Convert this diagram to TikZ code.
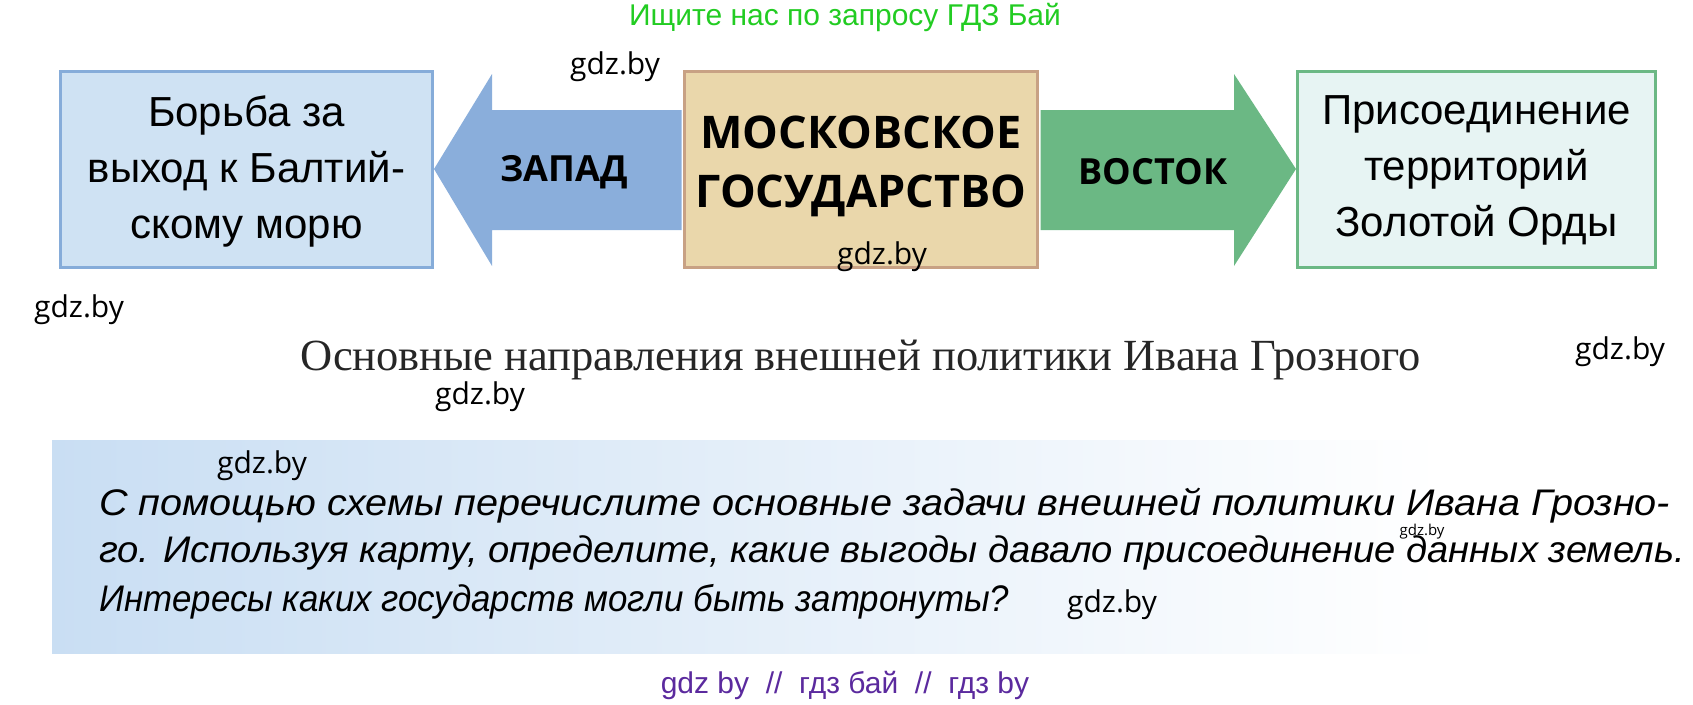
\documentclass[tikz,border=0pt]{standalone}
\usepackage{fontspec}
\setmainfont{Liberation Sans}
\newfontfamily\osans{Open Sans}
\newfontfamily\cserif{Liberation Serif}
\usetikzlibrary{calc}
\definecolor{lbfill}{HTML}{CFE2F3}
\definecolor{lbdraw}{HTML}{86ACD9}
\definecolor{barrow}{HTML}{8AAEDB}
\definecolor{cfill}{HTML}{EAD7AB}
\definecolor{cdraw}{HTML}{C8A184}
\definecolor{garrow}{HTML}{6BB884}
\definecolor{rfill}{HTML}{E7F4F3}
\definecolor{grtext}{HTML}{22CC22}
\definecolor{purp}{HTML}{5B2A9E}
\definecolor{qfill}{HTML}{C9DEF3}
\tikzset{
  box/.style={line width=3pt, inner sep=0pt, minimum height=196pt, align=center},
  boxtext/.style={font=\fontsize{42}{56}\selectfont, align=center},
  label/.style={font=\osans\bfseries\fontsize{36}{40}\selectfont},
  wm/.style={font=\osans\fontsize{30}{34}\selectfont},
  qline/.style={font=\itshape\fontsize{37}{40}\selectfont, anchor=west, inner sep=0pt}
}
\begin{document}
\begin{tikzpicture}[x=1pt,y=-1pt]
\useasboundingbox (0,0) rectangle (1693,704);
% boxes
\node[box, draw=lbdraw, fill=lbfill, minimum width=372pt] (left) at (246.5,169) {};
\node[box, draw=cdraw, fill=cfill, minimum width=353pt] (center) at (861,169) {};
\node[box, draw=garrow, fill=rfill, minimum width=358pt] (right) at (1476.5,169) {};
% arrows
\fill[barrow] (left.east) -- ($(left.east)+(58,-95)$) -- ($(left.east)+(58,-59)$)
  -- ($(center.west)+(-1.5,-59)$) -- ($(center.west)+(-1.5,61)$) -- ($(left.east)+(58,61)$)
  -- ($(left.east)+(58,97)$) -- cycle;
\fill[garrow] ($(center.east)+(1.5,-59)$) -- ($(right.west)+(-62,-59)$) -- ($(right.west)+(-62,-95)$)
  -- (right.west) -- ($(right.west)+(-62,97)$) -- ($(right.west)+(-62,61)$)
  -- ($(center.east)+(1.5,61)$) -- cycle;
% texts
\node[boxtext] (lt) at (246.5,171) {Борьба за\\выход к Балтий-\\скому морю};
\node[boxtext] (rt) at (1476.5,170) {Присоединение\\территорий\\Золотой Орды};
\node[font=\osans\bfseries\fontsize{45}{59}\selectfont, align=center] (ct) at (861,166) {МОСКОВСКОЕ\\ГОСУДАРСТВО};
\node[label] (west) at (564,172) {ЗАПАД};
\node[label] (east) at (1153,172) {ВОСТОК};
\node[text=grtext, font=\fontsize{30}{34}\selectfont] (top) at (845,17) {Ищите нас по запросу ГДЗ Бай};
\node[font=\cserif\fontsize{44.5}{50}\selectfont, text=black!85] (cap) at (861,360) {Основные направления внешней политики Ивана Грозного};
% question box
\shade[left color=qfill, right color=white] (52,440) rectangle (1440,653);
\node[qline] (q1) at (99,506) {\resizebox{1571pt}{\height}{С помощью схемы перечислите основные задачи внешней политики Ивана Грозно-}};
\node[qline] (q2) at (99,553) {\resizebox{1586pt}{\height}{го. Используя карту, определите, какие выгоды давало присоединение данных земель.}};
\node[qline] (q3) at (99,602) {\resizebox{910pt}{\height}{Интересы каких государств могли быть затронуты?}};
\node[text=purp, font=\fontsize{30}{34}\selectfont] (bot) at (845,685) {gdz by \ // \ гдз бай \ // \ гдз by};
% watermarks
\node[wm] (w1) at (615,67) {gdz.by};
\node[wm] (w2) at (882,257) {gdz.by};
\node[wm] (w3) at (79,310) {gdz.by};
\node[wm] (w4) at (1620,352) {gdz.by};
\node[wm] (w5) at (480,397) {gdz.by};
\node[wm] (w6) at (262,466) {gdz.by};
\node[font=\osans\fontsize{15}{17}\selectfont] (w7) at (1422,532) {gdz.by};
\node[wm] (w8) at (1112,605) {gdz.by};
\end{tikzpicture}
\end{document}
